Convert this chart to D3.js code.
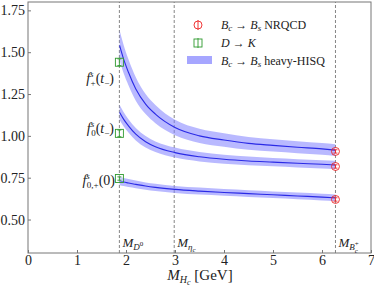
<!DOCTYPE html>
<html>
<head>
<meta charset="utf-8">
<script src="https://cdn.jsdelivr.net/npm/d3@7"></script>
<style>
  body { margin: 0; background: #fff; }
  svg text { font-family: "Liberation Serif", "DejaVu Serif", serif !important; fill: #222; }
</style>
</head>
<body>
<div id="chart"></div>
<script>
// masses along the band (GeV)
const masses = [1.87, 1.95, 2.05, 2.2, 2.4, 2.6, 3.0, 3.5, 4.0, 4.5, 5.0, 5.5, 6.0, 6.27];
// heavy-HISQ central values and half widths
const fPlus    = [1.54, 1.46, 1.38, 1.28, 1.19, 1.13, 1.05, 1.00, 0.975, 0.955, 0.943, 0.932, 0.922, 0.915];
const fPlusErr = [0.09, 0.085, 0.078, 0.07, 0.06, 0.054, 0.046, 0.042, 0.04, 0.038, 0.037, 0.036, 0.035, 0.035];
const fZero    = [1.14, 1.10, 1.06, 1.01, 0.965, 0.935, 0.90, 0.875, 0.86, 0.85, 0.843, 0.836, 0.83, 0.826];
const fZeroErr = [0.045, 0.043, 0.04, 0.037, 0.034, 0.032, 0.03, 0.028, 0.027, 0.026, 0.025, 0.025, 0.025, 0.025];
const fAt0     = [0.73, 0.724, 0.718, 0.71, 0.70, 0.692, 0.68, 0.67, 0.662, 0.655, 0.648, 0.641, 0.634, 0.63];
const fAt0Err  = [0.025, 0.024, 0.024, 0.023, 0.022, 0.022, 0.021, 0.021, 0.02, 0.02, 0.02, 0.02, 0.02, 0.02];

// D -> K points (at M_D0) and NRQCD points (at M_Bc)
const dkValues = [1.44, 1.015, 0.745];
const dkErrs = [0.02, 0.02, 0.01];
const nrqcdValues = [0.907, 0.817, 0.62];
const nrqcdErrs = [0.01, 0.01, 0.01];

const massLines = [1.865, 2.984, 6.275];
const xTicks = [0, 1, 2, 3, 4, 5, 6, 7];
const yTicks = [0.5, 0.75, 1.0, 1.25, 1.5, 1.75];

const W = 374, H = 288;
const svg = d3.select("#chart").append("svg")
  .attr("width", W).attr("height", H);

const x = d3.scaleLinear().domain([0, 7]).range([28, 371]);
const y = d3.scaleLinear().domain([0.3, 1.8]).range([253, 2]);

// frame
svg.append("rect")
  .attr("x", x(0)).attr("y", y(1.8))
  .attr("width", x(7) - x(0)).attr("height", y(0.3) - y(1.8))
  .attr("fill", "none").attr("stroke", "#777").attr("stroke-width", 1);

// axes
const xAxis = svg.append("g")
  .attr("transform", `translate(0,${y(0.3)})`)
  .call(d3.axisBottom(x).tickValues(xTicks).tickFormat(d3.format("d")).tickSize(-3).tickPadding(2));
const yAxis = svg.append("g")
  .attr("transform", `translate(${x(0)},0)`)
  .call(d3.axisLeft(y).tickValues(yTicks).tickFormat(d3.format(".2f")).tickSize(-3).tickPadding(3));
[xAxis, yAxis].forEach(g => {
  g.attr("font-family", null);
  g.select(".domain").remove();
  g.selectAll(".tick line").attr("stroke", "#777");
  g.selectAll(".tick text").style("font-size", "14px").attr("fill", "#222");
});

// vertical mass lines
svg.selectAll(".mline")
  .data(massLines)
  .join("line")
    .attr("x1", d => x(d)).attr("x2", d => x(d))
    .attr("y1", y(0.3)).attr("y2", y(1.8))
    .attr("stroke", "#777").attr("stroke-width", 0.9)
    .attr("stroke-dasharray", "3,2");

// bands and central lines
const series = [[fPlus, fPlusErr], [fZero, fZeroErr], [fAt0, fAt0Err]];
const area = d3.area()
  .x(d => x(d.m)).y0(d => y(d.v - d.e)).y1(d => y(d.v + d.e))
  .curve(d3.curveMonotoneX);
const line = d3.line()
  .x(d => x(d.m)).y(d => y(d.v))
  .curve(d3.curveMonotoneX);

series.forEach(([vals, errs]) => {
  const pts = masses.map((m, i) => ({m: m, v: vals[i], e: errs[i]}));
  svg.append("path").attr("d", area(pts))
    .attr("fill", "#8080ff").attr("fill-opacity", 0.55);
  svg.append("path").attr("d", line(pts))
    .attr("fill", "none").attr("stroke", "#2a2ae6").attr("stroke-width", 1.1);
});

// D -> K squares
const dk = svg.append("g").attr("stroke", "#2e9a2e").attr("fill", "none").attr("stroke-width", 0.9);
dkValues.forEach((v, i) => {
  const cx = x(massLines[0]), cy = y(v);
  dk.append("rect").attr("x", cx - 4).attr("y", cy - 4).attr("width", 8).attr("height", 8)
    .attr("fill", "rgba(255,255,255,0.3)");
  dk.append("line").attr("x1", cx).attr("x2", cx).attr("y1", y(v - dkErrs[i])).attr("y2", y(v + dkErrs[i]));
  [v - dkErrs[i], v + dkErrs[i]].forEach(e =>
    dk.append("line").attr("x1", cx - 2).attr("x2", cx + 2).attr("y1", y(e)).attr("y2", y(e)));
});

// NRQCD circles
const nr = svg.append("g").attr("stroke", "#ee2222").attr("fill", "none").attr("stroke-width", 0.9);
nrqcdValues.forEach((v, i) => {
  const cx = x(massLines[2]), cy = y(v);
  nr.append("circle").attr("cx", cx).attr("cy", cy).attr("r", 4);
  nr.append("line").attr("x1", cx).attr("x2", cx).attr("y1", y(v - nrqcdErrs[i])).attr("y2", y(v + nrqcdErrs[i]));
  [v - nrqcdErrs[i], v + nrqcdErrs[i]].forEach(e =>
    nr.append("line").attr("x1", cx - 2).attr("x2", cx + 2).attr("y1", y(e)).attr("y2", y(e)));
});

// rich text: parts are {t, off (px below baseline), s (size), it, dx}
function rich(g, px, py, parts, anchor) {
  const t = g.append("text").attr("x", px).attr("y", py)
    .attr("text-anchor", anchor || "start");
  let cur = 0;
  parts.forEach(p => {
    const off = p.off || 0;
    const s = t.append("tspan").text(p.t)
      .attr("dy", off - cur)
      .style("font-size", p.s + "px");
    if (p.dx) s.attr("dx", p.dx);
    if (p.it) s.style("font-style", "italic");
    cur = off;
  });
  return t;
}

// form factor labels
rich(svg, 114, 83, [
  {t: "f", s: 14, it: true}, {t: "s", s: 9, it: true, off: -6}, {t: "+", s: 9, off: 3, dx: -3},
  {t: "(", s: 14}, {t: "t", s: 14, it: true}, {t: "−", s: 9, off: 3}, {t: ")", s: 14}], "end");
rich(svg, 114, 133, [
  {t: "f", s: 14, it: true}, {t: "s", s: 9, it: true, off: -6}, {t: "0", s: 9, off: 3, dx: -3},
  {t: "(", s: 14}, {t: "t", s: 14, it: true}, {t: "−", s: 9, off: 3}, {t: ")", s: 14}], "end");
rich(svg, 115, 185, [
  {t: "f", s: 14, it: true}, {t: "s", s: 9, it: true, off: -6}, {t: "0,+", s: 9, off: 3, dx: -3},
  {t: "(0)", s: 14}], "end");

// mass line labels
rich(svg, x(massLines[0]) + 3, 247, [
  {t: "M", s: 13, it: true}, {t: "D", s: 9, it: true, off: 3}, {t: "0", s: 7, off: -1}]);
rich(svg, x(massLines[1]) + 3, 247, [
  {t: "M", s: 13, it: true}, {t: "η", s: 9, it: true, off: 3}, {t: "c", s: 7, it: true, off: 5}]);
rich(svg, x(massLines[2]) + 3, 247, [
  {t: "M", s: 13, it: true}, {t: "B", s: 9, it: true, off: 3}, {t: "+", s: 7, off: -1}, {t: "c", s: 7, it: true, off: 6, dx: -4}]);

// x axis title
rich(svg, 200, 280, [
  {t: "M", s: 15, it: true}, {t: "H", s: 10, it: true, off: 3}, {t: "c", s: 8, it: true, off: 5},
  {t: " [GeV]", s: 15}], "middle");

// legend
const lg = svg.append("g");
const lx = 198;
lg.append("circle").attr("cx", lx).attr("cy", 25).attr("r", 4).attr("fill", "none").attr("stroke", "#ee2222").attr("stroke-width", 0.9);
lg.append("line").attr("x1", lx).attr("x2", lx).attr("y1", 20).attr("y2", 30).attr("stroke", "#ee2222").attr("stroke-width", 0.9);
lg.append("rect").attr("x", lx - 4).attr("y", 39).attr("width", 8).attr("height", 8).attr("fill", "none").attr("stroke", "#2e9a2e").attr("stroke-width", 0.9);
lg.append("line").attr("x1", lx).attr("x2", lx).attr("y1", 38).attr("y2", 48).attr("stroke", "#2e9a2e").attr("stroke-width", 0.9);
lg.append("rect").attr("x", 187).attr("y", 56).attr("width", 25).attr("height", 8).attr("fill", "#8080ff").attr("fill-opacity", 0.7);

rich(lg, 221, 29, [
  {t: "B", s: 12, it: true}, {t: "c", s: 9, it: true, off: 2}, {t: " → ", s: 12},
  {t: "B", s: 12, it: true}, {t: "s", s: 9, it: true, off: 2}, {t: " NRQCD", s: 12}]);
rich(lg, 221, 47, [
  {t: "D", s: 12, it: true}, {t: " → ", s: 12}, {t: "K", s: 12, it: true}]);
rich(lg, 221, 65, [
  {t: "B", s: 12, it: true}, {t: "c", s: 9, it: true, off: 2}, {t: " → ", s: 12},
  {t: "B", s: 12, it: true}, {t: "s", s: 9, it: true, off: 2}, {t: " heavy-HISQ", s: 12}]);
</script>
</body>
</html>
